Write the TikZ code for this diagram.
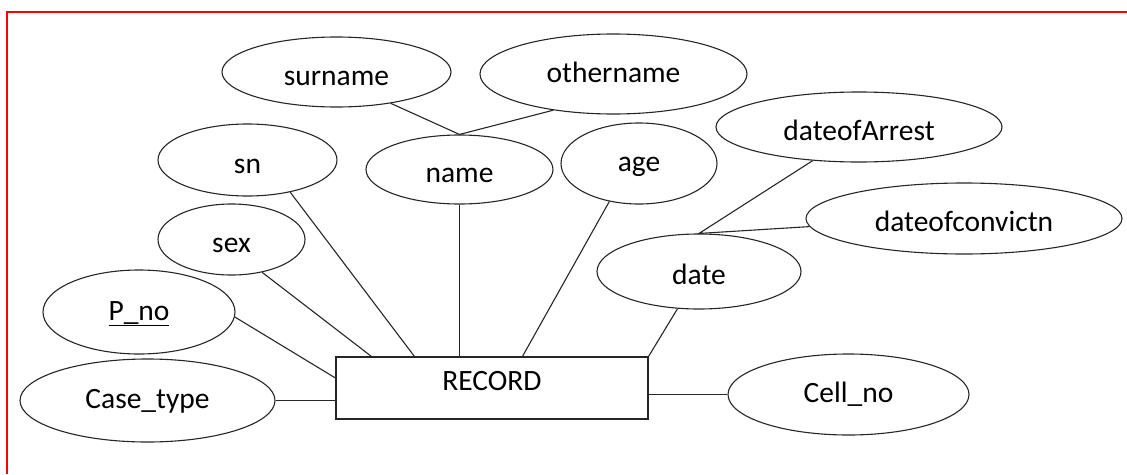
\documentclass[tikz,border=0pt]{standalone}
\usepackage{fontspec}
\setmainfont{Carlito}
\usetikzlibrary{shapes.geometric}

\begin{document}
\begin{tikzpicture}[x=1pt,y=-1pt,
  attr/.style={ellipse,draw=black!85,line width=1.1pt,inner sep=0pt,text height=26pt,text depth=0pt,font=\fontsize{29.5}{31}\selectfont},
  low/.style={text depth=10pt},
  entity/.style={rectangle,draw=black!85,line width=1.1pt,inner sep=0pt,font=\fontsize{29.5}{31}\selectfont},
  link/.style={draw=black!85,line width=1.1pt}]
\useasboundingbox (0,0) rectangle (1127,474);
% Draw frame
\draw[red,line width=1.3pt] (1127,12) -- (7,12) -- (7,474);
% Draw entity
\node[entity,minimum width=312pt,minimum height=62pt,text depth=14pt] (record) at (492,388) {RECORD};
% Draw attributes
\node[attr,minimum width=229pt,minimum height=70pt] (surname) at (336.5,72) {surname};
\node[attr,low,minimum width=267pt,minimum height=80pt] (othername) at (613.5,74) {othername};
\node[attr,minimum width=187pt,minimum height=69pt] (name) at (459.5,169.5) {name};
\node[attr,minimum width=179pt,minimum height=72pt] (sn) at (247.5,160) {sn};
\node[attr,minimum width=147pt,minimum height=71pt] (sex) at (231.5,239.5) {sex};
\node[attr,low,minimum width=192pt,minimum height=84pt] (pno) at (139,312) {\underline{P\_no}};
\node[attr,low,minimum width=255pt,minimum height=83pt] (casetype) at (147.5,400.5) {Case\_type};
\node[attr,low,minimum width=156pt,minimum height=81pt] (age) at (639,163.5) {age};
\node[attr,minimum width=286pt,minimum height=70pt] (arrest) at (859,127) {dateofArrest};
\node[attr,minimum width=316pt,minimum height=71pt] (convict) at (964,218.5) {dateofconvictn};
\node[attr,minimum width=204pt,minimum height=75pt] (date) at (699,271.5) {date};
\node[attr,low,minimum width=241pt,minimum height=81pt] (cellno) at (848.5,394.5) {Cell\_no};
% Composite name
\draw[link] (surname.330) -- (name.north) -- (othername.211);
% Composite date
\draw[link] (arrest.216) -- (date.north) -- (convict.183);
% Attributes to entity
\draw[link] (name.south) -- (name.south |- record.north);
\draw[link] (sn.323) -- ([xshift=79pt]record.north west);
\draw[link] (sex.313) -- ([xshift=36pt]record.north west);
\draw[link] (pno.357) -- ([yshift=10pt]record.west);
\draw[link] (casetype.east) -- (casetype.east -| record.west);
\draw[link] (age.232) -- ([xshift=187pt]record.north west);
\draw[link] (date.240) -- (record.north east);
\draw[link] (cellno.west) -- (cellno.west -| record.east);
\end{tikzpicture}
\end{document}
